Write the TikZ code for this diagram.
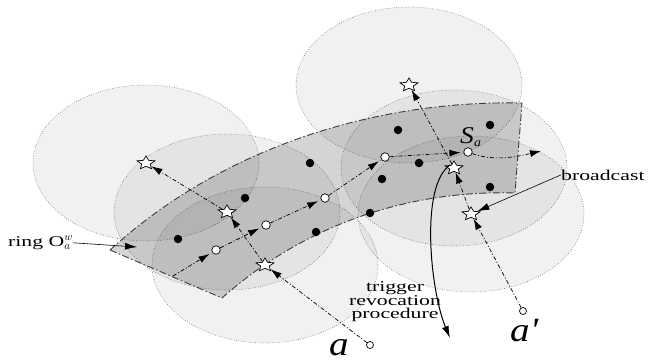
\documentclass[tikz,border=0pt]{standalone}
\usepackage{fontspec}
\setmainfont{Liberation Serif}
\newfontfamily\widefont[FakeStretch=1.45]{Liberation Serif}
\newfontfamily\labelfont[FakeStretch=1.15]{Liberation Serif}
\usepackage{tikz}
\usetikzlibrary{arrows.meta,shapes.geometric}
\definecolor{RangeLine}{RGB}{125,125,125}
\definecolor{RingLine}{RGB}{60,60,60}

\begin{document}
\begin{tikzpicture}[
    x=1pt, y=-1pt,
    rangezone/.style={draw=RangeLine, line width=0.6pt, dash pattern=on 0.7pt off 1.7pt,
        fill=black, fill opacity=0.055},
    ringarea/.style={draw=RingLine, line width=0.9pt,
        dash pattern=on 7pt off 2.5pt on 1.5pt off 2.5pt, fill=black, fill opacity=0.17},
    sensor/.style={star, star points=5, star point ratio=2.1, draw, fill=white,
        line width=0.7pt, minimum size=14pt, inner sep=0pt, xscale=1.35},
    relay/.style={circle, draw, fill=white, line width=0.7pt, minimum size=8.5pt, inner sep=0pt},
    member/.style={circle, fill=black, minimum size=8.5pt, inner sep=0pt},
    hop/.style={line width=0.7pt, dash pattern=on 4pt off 2pt on 1pt off 2pt,
        -{Latex[length=11pt,width=7pt]}},
    pointer/.style={line width=0.6pt, -{Latex[length=12pt,width=7pt]}},
    notetext/.style={font=\widefont\fontsize{15}{13.5}\selectfont, inner sep=0pt, align=center},
    biglabel/.style={font=\labelfont\itshape\fontsize{34}{34}\selectfont, inner sep=0pt}
]
\useasboundingbox (0,0) rectangle (649,362);
% sensor positions
\coordinate (p1) at (146,163);
\coordinate (p2) at (227,212);
\coordinate (p3) at (265,265);
\coordinate (p4) at (409,85);
\coordinate (p5) at (454,168);
\coordinate (p6) at (471,214);
% transmission ranges
\foreach \c in {p1,p2,p3,p4,p5,p6}
    \draw[rangezone] (\c) ellipse [x radius=113pt, y radius=78pt];
% ring
\draw[ringarea] (110,250) .. controls (225,145) and (380,100) .. (522,103)
    -- (515,193) .. controls (420,190) and (312,218) .. (222,298) -- cycle;

% nodes
\foreach \x/\y [count=\i] in {178/239, 245/198, 310/163, 316/232, 398/130,
    419/163, 382/179, 370/213, 490/125, 490/187}
    \node[member] (m\i) at (\x,\y) {};
\node[relay] (w1) at (216,250) {};
\node[relay] (w2) at (266,225) {};
\node[relay] (w3) at (325,198) {};
\node[relay] (w4) at (385,157) {};
\node[relay] (w5) at (468,152) {};
\node[relay, minimum size=7pt] (na) at (370,345) {};
\node[relay, minimum size=7pt] (nb) at (523,311) {};
\foreach \i in {1,...,6}
    \node[sensor] (s\i) at (p\i) {};

% trajectory of the ring
\coordinate (t0) at (173,276);
\coordinate (t6) at (541,151);
\draw[hop, shorten >=3pt] (t0) -- (w1);
\foreach \a/\b in {w1/w2, w2/w3, w3/w4, w4/w5}
    \draw[hop, shorten >=3pt] (\a) -- (\b);
\draw[hop] (w5) .. controls (495,162) and (520,156) .. (t6);

% moves of a and a'
\draw[hop] (na) -- (s3);
\draw[hop] (s3) -- (s2);
\draw[hop] (s2) -- (s1);
\draw[hop] (nb) -- (s6);
\draw[hop] (s6) -- (s5);
\draw[hop] (s5) -- (s4);

% trigger
\coordinate (trigtip) at (450,338);
\draw[line width=1pt, -{Latex[length=12pt,width=7pt]}] (s5.north west)
    .. controls (420,185) and (430,290) .. (trigtip);

% labels
\node[notetext] (trig) at (395,302) {trigger\\revocation\\procedure};
\node[notetext, anchor=base west] (bc) at (561,180) {broadcast};
\node[notetext, anchor=base west] (rl) at (8,246) {ring O$_a^w$};
\coordinate (rtip) at (137,247);
\draw[pointer] (rl.east) -- (rtip);
\draw[pointer] (bc.west) -- (s6);
\node[font=\labelfont\itshape\fontsize{24}{24}\selectfont, inner sep=0pt, anchor=base west]
    (sa) at (460,143) {S\raisebox{-3pt}{\fontsize{12}{12}\selectfont a}};
\node[biglabel, anchor=base] (la) at (339,355) {a};
\node[biglabel, anchor=base west] (lb) at (510,341) {a\textquotesingle};
\end{tikzpicture}
\end{document}
